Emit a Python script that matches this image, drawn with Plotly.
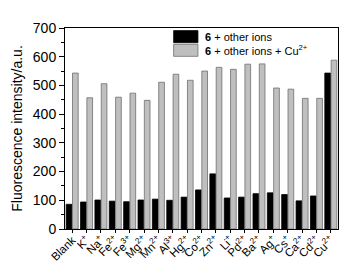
import plotly.graph_objects as go

categories = ["Blank", "K<sup>+</sup>", "Na<sup>+</sup>", "Fe<sup>2+</sup>", "Fe<sup>3+</sup>",
              "Mg<sup>2+</sup>", "Mn<sup>2+</sup>", "Al<sup>3+</sup>", "Hg<sup>2+</sup>",
              "Co<sup>2+</sup>", "Zn<sup>2+</sup>", "Li<sup>+</sup>", "Pd<sup>2+</sup>",
              "Ba<sup>2+</sup>", "Ag<sup>+</sup>", "Cs<sup>+</sup>", "Ca<sup>2+</sup>",
              "Cd<sup>2+</sup>", "Cu<sup>2+</sup>"]
other_ions = [86, 94, 101, 97, 95, 101, 104, 100, 111, 136, 192, 108, 111, 123, 126, 120, 98, 115, 543]
other_ions_cu = [543, 457, 506, 459, 473, 448, 511, 539, 518, 550, 563, 556, 574, 575, 491, 487, 455, 455, 588]
y_ticks = [0, 100, 200, 300, 400, 500, 600, 700]

FONT = "Liberation Sans, Arial, sans-serif"

fig = go.Figure()
fig.add_trace(go.Bar(x=categories, y=other_ions, name="6 + other ions",
                     marker=dict(color="#000000", line=dict(color="#000000", width=0.8)),
                     showlegend=False))
fig.add_trace(go.Bar(x=categories, y=other_ions_cu, name="6 + other ions + Cu2+",
                     marker=dict(color="#bfbfbf", line=dict(color="#6e6e6e", width=0.8)),
                     showlegend=False))

# legend drawn as swatches + text
fig.add_shape(type="rect", xref="paper", yref="paper", x0=0.398, x1=0.487, y0=0.927, y1=0.987,
              fillcolor="#000000", line=dict(color="#000000", width=0.8))
fig.add_shape(type="rect", xref="paper", yref="paper", x0=0.398, x1=0.487, y0=0.859, y1=0.919,
              fillcolor="#bfbfbf", line=dict(color="#6e6e6e", width=0.8))
fig.add_annotation(xref="paper", yref="paper", x=0.505, y=0.957, xanchor="left", yanchor="middle",
                   text="<b>6</b> + other ions", showarrow=False,
                   font=dict(family=FONT, size=11, color="#000"))
fig.add_annotation(xref="paper", yref="paper", x=0.505, y=0.889, xanchor="left", yanchor="middle",
                   text="<b>6</b> + other ions + Cu<sup>2+</sup>", showarrow=False,
                   font=dict(family=FONT, size=11, color="#000"))

fig.update_layout(
    width=354, height=262,
    margin=dict(l=57, r=24, t=20, b=41),
    paper_bgcolor="white", plot_bgcolor="white",
    barmode="group", bargap=0.12, bargroupgap=0.1,
    font=dict(family=FONT, size=13, color="#000"),
)
fig.update_xaxes(
    range=[-0.5, 18.5], showline=True, linecolor="#000", linewidth=1, mirror=True,
    tickmode="array", tickvals=categories, ticktext=categories,
    ticks="outside", ticklen=3, tickcolor="#000", tickangle=-45,
    ticklabelstandoff=-4,
    tickfont=dict(family=FONT, size=11.5), automargin=False,
)
fig.update_yaxes(
    range=[0, 700], tickvals=y_ticks, showline=True, linecolor="#000", linewidth=1, mirror=True,
    ticks="outside", ticklen=5, tickcolor="#000", showgrid=False, zeroline=False,
    minor=dict(dtick=50, ticks="outside", ticklen=3, tickcolor="#000", showgrid=False),
    tickfont=dict(family=FONT, size=14),
    title=dict(text="Fluorescence intensity/a.u.", font=dict(family=FONT, size=14), standoff=6),
    automargin=False,
)

fig.write_html("out.html")
